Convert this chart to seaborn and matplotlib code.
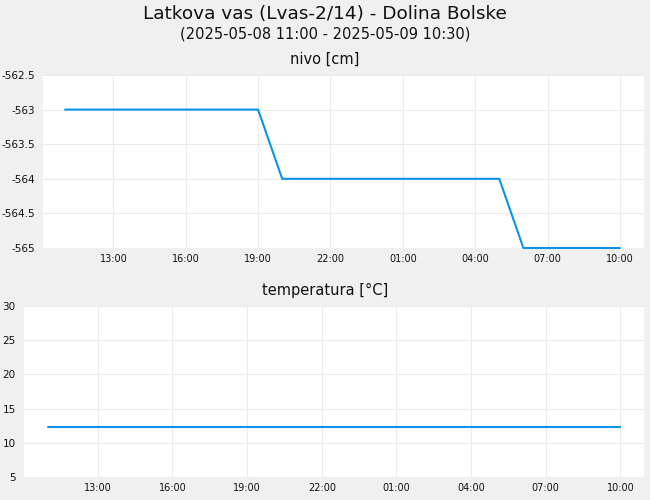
import pandas as pd
import matplotlib
matplotlib.use("Agg")
import matplotlib.pyplot as plt
import matplotlib.dates as mdates
import matplotlib.ticker as mticker
import seaborn as sns

# data
level_times = ["2025-05-08 11:00", "2025-05-08 19:00", "2025-05-08 20:00",
               "2025-05-09 05:00", "2025-05-09 06:00", "2025-05-09 10:00"]
level_values = [-563, -563, -564, -564, -565, -565]

temp_times = ["2025-05-08 11:00", "2025-05-09 10:00"]
temp_values = [12.3, 12.3]

title = "Latkova vas (Lvas-2/14) - Dolina Bolske"
subtitle = "(2025-05-08 11:00 - 2025-05-09 10:30)"

level_df = pd.DataFrame({"time": pd.to_datetime(level_times), "value": level_values})
temp_df = pd.DataFrame({"time": pd.to_datetime(temp_times), "value": temp_values})

sns.set_theme(style="whitegrid")
plt.rcParams["font.family"] = ["DejaVu Sans"]
plt.rcParams["axes.unicode_minus"] = False

line_color = "#0a94e8"
bg = "#f0f0f0"
grid_color = "#ebebeb"

fig = plt.figure(figsize=(6.5, 5), dpi=100, facecolor=bg)
ax1 = fig.add_axes([43 / 650, 1 - 248 / 500, (644 - 43) / 650, (248 - 75) / 500])
ax2 = fig.add_axes([24 / 650, 1 - 477 / 500, (644 - 24) / 650, (477 - 306) / 500])

sns.lineplot(data=level_df, x="time", y="value", ax=ax1, color=line_color,
             linewidth=1.5, clip_on=False)
sns.lineplot(data=temp_df, x="time", y="value", ax=ax2, color=line_color,
             linewidth=1.5, clip_on=False)

ax1.set_ylim(-565, -562.5)
ax1.yaxis.set_major_locator(mticker.MultipleLocator(0.5))
ax1.set_xlim(pd.Timestamp("2025-05-08 10:05"), pd.Timestamp("2025-05-09 11:00"))
ax2.set_ylim(5, 30)
ax2.yaxis.set_major_locator(mticker.MultipleLocator(5))
ax2.set_xlim(pd.Timestamp("2025-05-08 10:02"), pd.Timestamp("2025-05-09 10:57"))

for ax in (ax1, ax2):
    ax.set_facecolor("white")
    ax.set_xlabel("")
    ax.set_ylabel("")
    for s in ax.spines.values():
        s.set_visible(False)
    ax.grid(True, color=grid_color, linewidth=0.8)
    ax.xaxis.set_major_locator(mdates.HourLocator(byhour=[1, 4, 7, 10, 13, 16, 19, 22]))
    ax.xaxis.set_major_formatter(mdates.DateFormatter("%H:%M"))
    ax.yaxis.set_major_formatter(mticker.FormatStrFormatter("%g"))
    ax.tick_params(axis="x", length=0, pad=4, labelsize=7, colors="#111111")
    ax.tick_params(axis="y", length=0, pad=6, labelsize=7.5, colors="#111111")

fig.text(0.5, 1 - 14 / 500, title, ha="center", va="center", fontsize=13.3, color="#111111")
fig.text(0.5, 1 - 34 / 500, subtitle, ha="center", va="center", fontsize=10.5, color="#111111")
fig.text(0.5, 1 - 59 / 500, "nivo [cm]", ha="center", va="center", fontsize=10.5, color="#111111")
fig.text(0.5, 1 - 290 / 500, "temperatura [°C]", ha="center", va="center", fontsize=10.5, color="#111111")

fig.savefig("out.png", dpi=100, facecolor=bg)
